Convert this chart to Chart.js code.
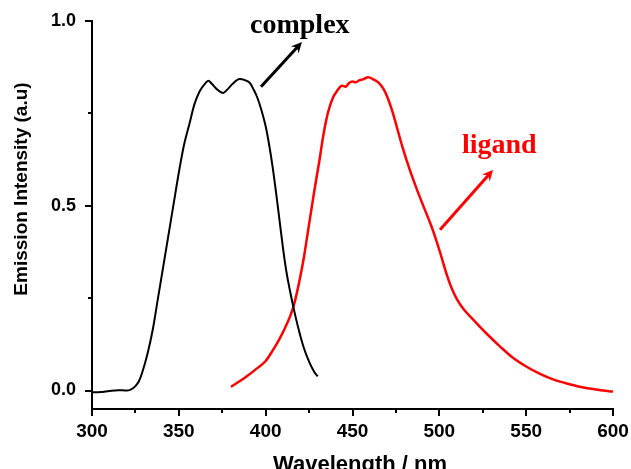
<!DOCTYPE html>
<html lang="en">
<head>
    <meta charset="UTF-8">
    <title>Emission spectra</title>
    <style>
        body { margin: 0; background: #fff; }
        canvas { display: block; }
    </style>
    <script src="https://cdn.jsdelivr.net/npm/chart.js"></script>
</head>
<body>
    <canvas id="emissionChart" width="631" height="469"></canvas>

    <script>
        // complex (black) spectrum
        const complexWavelength = [300, 305, 310, 315, 320, 322, 325, 327, 329, 332, 335, 338, 341, 344, 347, 350, 353, 356, 359, 362, 365, 367, 369, 372, 375.5, 378, 381, 385, 388, 391, 393, 395, 397.5, 400, 402, 404, 406, 408, 410, 412, 414, 416, 419, 422, 425, 428, 430];
        const complexIntensity = [-0.005, -0.004, -0.001, 0.001, 0.0, 0.002, 0.012, 0.025, 0.05, 0.1, 0.165, 0.25, 0.335, 0.42, 0.505, 0.59, 0.665, 0.72, 0.775, 0.81, 0.83, 0.838, 0.83, 0.815, 0.805, 0.815, 0.83, 0.843, 0.84, 0.832, 0.815, 0.795, 0.76, 0.715, 0.665, 0.605, 0.535, 0.46, 0.385, 0.32, 0.27, 0.225, 0.165, 0.115, 0.078, 0.05, 0.038];

        // ligand (red) spectrum
        const ligandWavelength = [380, 385, 389, 395, 400, 404, 408, 411, 414, 416, 418, 420, 422, 424, 426, 428, 431, 433, 435, 437, 439, 441, 444, 446, 448, 450, 452, 454, 456, 459, 462, 465, 468, 470, 473, 476, 479, 483, 487, 491, 495, 498, 501, 504, 507, 510, 514, 519.5, 527, 535, 542, 550, 558, 565.5, 575, 583, 590, 600];
        const ligandIntensity = [0.01, 0.025, 0.038, 0.06, 0.08, 0.108, 0.14, 0.168, 0.2, 0.227, 0.265, 0.31, 0.36, 0.42, 0.48, 0.54, 0.624, 0.685, 0.735, 0.77, 0.795, 0.81, 0.825, 0.822, 0.832, 0.836, 0.834, 0.84, 0.842, 0.848, 0.842, 0.833, 0.815, 0.795, 0.755, 0.705, 0.655, 0.597, 0.545, 0.497, 0.45, 0.41, 0.365, 0.318, 0.278, 0.248, 0.22, 0.192, 0.155, 0.119, 0.09, 0.065, 0.045, 0.03, 0.017, 0.008, 0.003, -0.003];

        const xTicks = [300, 325, 350, 375, 400, 425, 450, 475, 500, 525, 550, 575, 600];
        const yTicks = [0, 0.25, 0.5, 0.75, 1.0];

        // annotation text + arrows, in data units
        const complexLabel = { text: 'complex', x: 391, y: 0.968 };
        const ligandLabel = { text: 'ligand', x: 513, y: 0.643 };
        const complexArrow = [397.3, 0.822, 420.9, 0.943];
        const ligandArrow = [500.4, 0.435, 530.9, 0.597];

        function toPoints(xs, ys) {
            return xs.map((x, i) => ({ x: x, y: ys[i] }));
        }

        function drawArrow(ctx, x1, y1, x2, y2, color) {
            const ang = Math.atan2(y2 - y1, x2 - x1);
            const head = 12;
            ctx.save();
            ctx.strokeStyle = color;
            ctx.fillStyle = color;
            ctx.lineWidth = 3;
            ctx.beginPath();
            ctx.moveTo(x1, y1);
            ctx.lineTo(x2 - Math.cos(ang) * 6, y2 - Math.sin(ang) * 6);
            ctx.stroke();
            ctx.beginPath();
            ctx.moveTo(x2, y2);
            ctx.lineTo(x2 - head * Math.cos(ang - 0.45), y2 - head * Math.sin(ang - 0.45));
            ctx.lineTo(x2 - head * 0.6 * Math.cos(ang), y2 - head * 0.6 * Math.sin(ang));
            ctx.lineTo(x2 - head * Math.cos(ang + 0.45), y2 - head * Math.sin(ang + 0.45));
            ctx.closePath();
            ctx.fill();
            ctx.restore();
        }

        const extras = {
            id: 'extras',
            afterDraw(chart) {
                const ctx = chart.ctx;
                const xs = chart.scales.x, ys = chart.scales.y;

                // tick marks, major longer than minor
                ctx.save();
                ctx.strokeStyle = '#000';
                ctx.lineWidth = 2;
                xTicks.forEach(v => {
                    const px = Math.round(xs.getPixelForValue(v));
                    const len = v % 50 === 0 ? 7 : 4;
                    ctx.beginPath();
                    ctx.moveTo(px, ys.bottom);
                    ctx.lineTo(px, ys.bottom + len);
                    ctx.stroke();
                });
                yTicks.forEach(v => {
                    const py = Math.round(ys.getPixelForValue(v));
                    const len = (v * 2) % 1 === 0 ? 7 : 4;
                    ctx.beginPath();
                    ctx.moveTo(xs.left, py);
                    ctx.lineTo(xs.left - len, py);
                    ctx.stroke();
                });

                // axis titles
                ctx.fillStyle = '#000';
                ctx.font = 'bold 22px "Liberation Sans", Arial, sans-serif';
                ctx.textAlign = 'center';
                ctx.textBaseline = 'alphabetic';
                ctx.fillText('Wavelength / nm', 360, 471);

                ctx.save();
                ctx.translate(27, 189);
                ctx.rotate(-Math.PI / 2);
                ctx.font = 'bold 19px "Liberation Sans", Arial, sans-serif';
                ctx.fillText('Emission Intensity (a.u)', 0, 0);
                ctx.restore();

                // annotations
                ctx.textAlign = 'left';
                ctx.font = 'bold 28px "Liberation Serif", "Times New Roman", serif';
                ctx.fillStyle = '#000';
                ctx.fillText(complexLabel.text, xs.getPixelForValue(complexLabel.x), ys.getPixelForValue(complexLabel.y));
                ctx.fillStyle = '#ff0000';
                ctx.fillText(ligandLabel.text, xs.getPixelForValue(ligandLabel.x), ys.getPixelForValue(ligandLabel.y));
                ctx.restore();

                drawArrow(ctx,
                    xs.getPixelForValue(complexArrow[0]), ys.getPixelForValue(complexArrow[1]),
                    xs.getPixelForValue(complexArrow[2]), ys.getPixelForValue(complexArrow[3]), '#000');
                drawArrow(ctx,
                    xs.getPixelForValue(ligandArrow[0]), ys.getPixelForValue(ligandArrow[1]),
                    xs.getPixelForValue(ligandArrow[2]), ys.getPixelForValue(ligandArrow[3]), '#ff0000');
            }
        };

        const ctx = document.getElementById('emissionChart').getContext('2d');
        window.myChart = new Chart(ctx, {
            type: 'line',
            data: {
                datasets: [{
                    label: 'complex',
                    data: toPoints(complexWavelength, complexIntensity),
                    borderColor: '#000',
                    borderWidth: 2,
                    pointRadius: 0,
                    cubicInterpolationMode: 'monotone'
                }, {
                    label: 'ligand',
                    data: toPoints(ligandWavelength, ligandIntensity),
                    borderColor: '#ff0000',
                    borderWidth: 2.5,
                    pointRadius: 0,
                    cubicInterpolationMode: 'monotone'
                }]
            },
            options: {
                responsive: false,
                animation: false,
                layout: { padding: { top: 21, right: 18, bottom: 0, left: 0 } },
                plugins: {
                    legend: { display: false },
                    tooltip: { enabled: false }
                },
                scales: {
                    x: {
                        type: 'linear',
                        min: 300,
                        max: 600,
                        afterBuildTicks: scale => { scale.ticks = xTicks.map(v => ({ value: v })); },
                        afterFit: scale => {
                            scale.height = 60;
                            scale.paddingLeft = 0;
                            scale.paddingRight = 0;
                        },
                        grid: { display: false, drawTicks: false },
                        border: { display: true, color: '#000', width: 2 },
                        ticks: {
                            autoSkip: false,
                            maxRotation: 0,
                            padding: 11,
                            color: '#000',
                            font: { family: '"Liberation Sans", Arial, sans-serif', size: 19, weight: 'bold' },
                            callback: v => (v % 50 === 0 ? String(v) : '')
                        }
                    },
                    y: {
                        type: 'linear',
                        min: -0.05,
                        max: 1.0,
                        afterBuildTicks: scale => { scale.ticks = yTicks.map(v => ({ value: v })); },
                        afterFit: scale => {
                            scale.width = 92;
                            scale.paddingTop = 0;
                            scale.paddingBottom = 0;
                        },
                        grid: { display: false, drawTicks: false },
                        border: { display: true, color: '#000', width: 2 },
                        ticks: {
                            autoSkip: false,
                            padding: 16,
                            color: '#000',
                            font: { family: '"Liberation Sans", Arial, sans-serif', size: 18, weight: 'bold' },
                            callback: v => ((v * 2) % 1 === 0 ? v.toFixed(1) : '')
                        }
                    }
                }
            },
            plugins: [extras]
        });
    </script>
</body>
</html>
